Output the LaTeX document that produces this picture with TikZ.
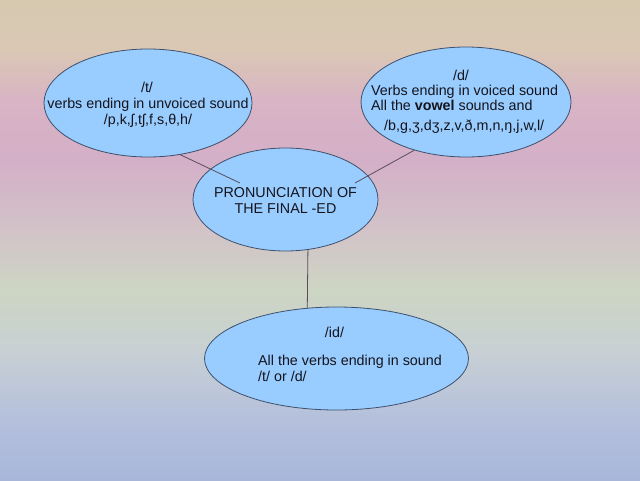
\documentclass[tikz,border=0pt]{standalone}
\usepackage{fontspec}
\setmainfont{Liberation Sans}
\pgfdeclareverticalshading{pastel}{100bp}{%
  rgb(0bp)=(0.659,0.714,0.855);
  rgb(25bp)=(0.659,0.714,0.855);
  rgb(31.25bp)=(0.706,0.753,0.863);
  rgb(38.5bp)=(0.784,0.816,0.831);
  rgb(44.8bp)=(0.804,0.835,0.765);
  rgb(51bp)=(0.824,0.765,0.784);
  rgb(58.3bp)=(0.831,0.686,0.784);
  rgb(64.6bp)=(0.847,0.706,0.769);
  rgb(69.8bp)=(0.855,0.784,0.706);
  rgb(75bp)=(0.84,0.79,0.69);
  rgb(100bp)=(0.84,0.79,0.69)}
\definecolor{bubble}{RGB}{153,204,255}
\definecolor{rim}{RGB}{62,80,108}
\definecolor{wire}{RGB}{88,78,92}
\definecolor{ink}{RGB}{20,20,28}
\tikzset{
  bubble/.style = {shape=ellipse, draw=rim, fill=bubble, line width=0.8pt, inner sep=0pt},
  txt/.style = {inner sep=0pt, text=ink, font=\fontsize{14.3}{16}\selectfont},
  wire/.style = {draw=wire, line width=0.8pt}
}
\usetikzlibrary{shapes.geometric}
\begin{document}
\begin{tikzpicture}[x=1pt, y=-1pt]
    \shade[shading=pastel] (0,0) rectangle (640,480);
    \useasboundingbox (0,0) rectangle (640,480);

    % centre
    \node (ctr) at (285.5,199.5) [bubble, minimum width=185pt, minimum height=103pt] {};
    \coordinate (lin1) at (240,183);
    \coordinate (lin2) at (355,183);

    % the three sounds
    \node (tl) at (148,103) [bubble, minimum width=208pt, minimum height=108pt] {};
    \node (tr) at (466,102) [bubble, minimum width=210pt, minimum height=110pt] {};
    \node (bot) at (336.5,358.5) [bubble, minimum width=264pt, minimum height=103pt] {};

    \draw[wire] (tl.-58) -- (lin1);
    \draw[wire] (tr.223) -- (lin2);
    \draw[wire] (ctr.-66) -- (bot.120);

    \node (ttl) at (147,92) [txt, anchor=base] {/t/};
    \node (tdesc) at (148,108) [txt, anchor=base] {verbs ending in unvoiced sound};
    \node (tlist) at (148,124) [txt, anchor=base] {/p,k,ʃ,tʃ,f,s,θ,h/};

    \node (dttl) at (461,80) [txt, anchor=base] {/d/};
    \node (ddesc) at (371,95) [txt, anchor=base west] {Verbs ending in voiced sound};
    \node (dvow) at (371,110.5) [txt, anchor=base west] {All the \textbf{vowel} sounds and};
    \node (dlist) at (384,130) [txt, anchor=base west] {/b,g,ʒ,dʒ,z,v,ð,m,n,ŋ,j,w,l/};

    \node (cttl) at (285.5,197) [txt, anchor=base] {PRONUNCIATION OF};
    \node (cttl2) at (285.5,213) [txt, anchor=base] {THE FINAL -ED};

    \node (idttl) at (334.5,337) [txt, anchor=base] {/id/};
    \node (iddesc) at (258,365) [txt, anchor=base west] {All the verbs ending in sound};
    \node (idlist) at (258,381) [txt, anchor=base west] {/t/ or /d/};
\end{tikzpicture}
\end{document}
